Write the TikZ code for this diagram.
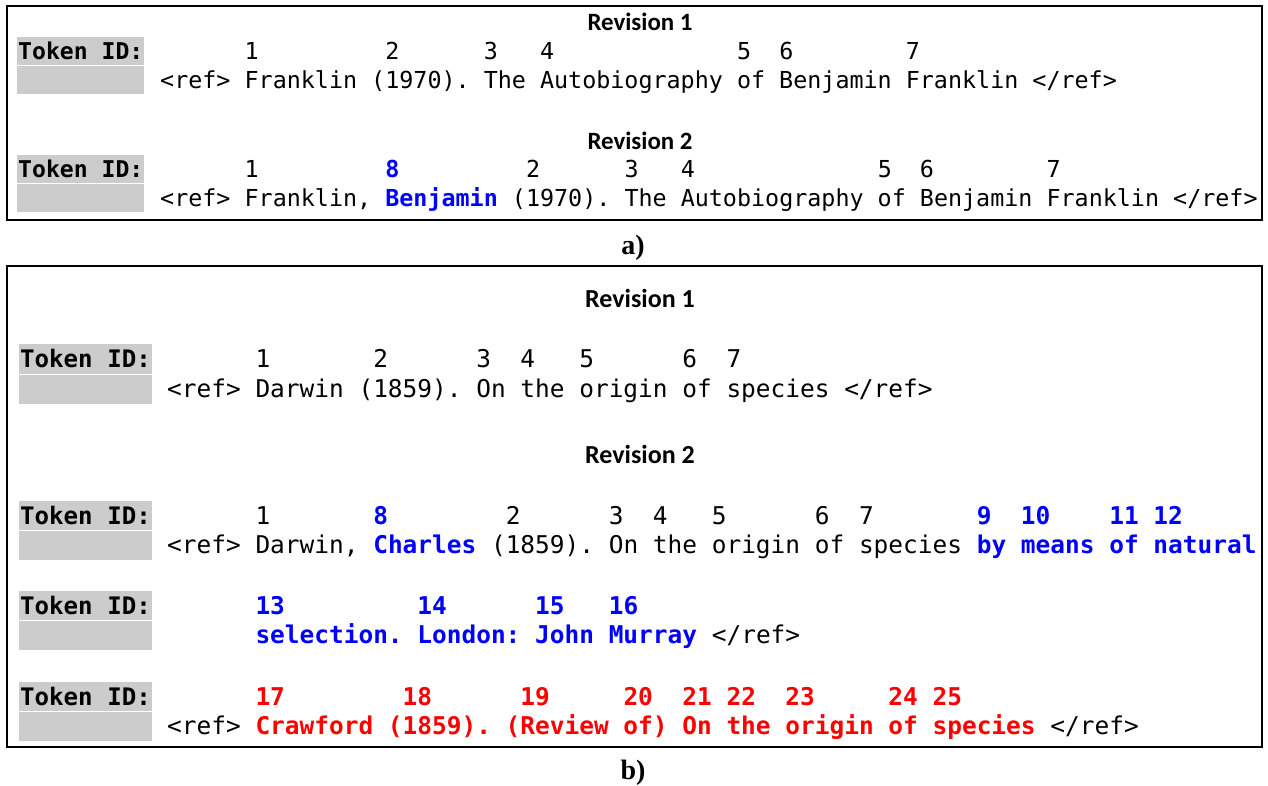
\documentclass[tikz,border=0pt]{standalone}
\usepackage{fontspec}
\newfontfamily\monof{DejaVu Sans Mono}
\newfontfamily\headf{Carlito}
\newfontfamily\capf{Liberation Serif}
\newcommand\tokblue[1]{{\color{blue}\bfseries #1}}
\newcommand\tokred[1]{{\color{red}\bfseries #1}}
\begin{document}
\begin{tikzpicture}[x=1pt,y=-1pt,
  frame/.style={draw=black,line width=2.5pt},
  cellfill/.style={fill=gray!40},
  monoA/.style={anchor=base west,inner sep=0pt,font=\monof\frenchspacing\fontsize{23.37}{28}\selectfont},
  monoB/.style={anchor=base west,inner sep=0pt,font=\monof\frenchspacing\fontsize{24.45}{29}\selectfont},
  tidA/.style={monoA,font=\monof\bfseries\fontsize{23.1}{28}\selectfont},
  tidB/.style={monoB,font=\monof\bfseries\fontsize{24.1}{29}\selectfont},
  headA/.style={anchor=base,inner sep=0pt,font=\headf\bfseries\fontsize{24.9}{29}\selectfont},
  headB/.style={anchor=base,inner sep=0pt,font=\headf\bfseries\fontsize{26}{30}\selectfont},
  caption/.style={anchor=base,inner sep=0pt,font=\capf\bfseries\fontsize{28}{32}\selectfont}
]
\useasboundingbox (0,0) rectangle (1268,785);

% ---------- panel a ----------
\draw[frame] (7,6) rectangle (1262,220);
\node[headA] (arev1) at (640,30.5) {Revision 1};
\node[headA] (arev2) at (640,149.5) {Revision 2};
\foreach \t/\n in {37/a1,155/a2} {
  \fill[cellfill] (17,\t) rectangle (144,\t+28.15);
  \fill[cellfill] (17,\t+29.15) rectangle (144,\t+57.3);
  \node[tidA] (tid\n) at (18,\t+22.5) {Token ID:};
}
% row a1
\foreach \i/\l in {6/1,16/2,23/3,27/4,41/5,44/6,53/7}
  \node[monoA] (a1n\l) at (160+\i*14.07,59.5) {\l};
\node[monoA] (a1txt) at (160,88.15) {<ref> Franklin (1970). The Autobiography of Benjamin Franklin </ref>};
% row a2
\foreach \i/\l in {6/1,26/2,33/3,37/4,51/5,54/6,63/7}
  \node[monoA] (a2n\l) at (160+\i*14.07,177.5) {\l};
\node[monoA] (a2n8) at (160+16*14.07,177.5) {\tokblue{8}};
\node[monoA] (a2txt) at (160,206.15) {<ref> Franklin, \tokblue{Benjamin} (1970). The Autobiography of Benjamin Franklin </ref>};
\node[caption] (capa) at (633,254) {a)};

% ---------- panel b ----------
\draw[frame] (7,266) rectangle (1262,747);
\node[headB] (brev1) at (640,307.5) {Revision 1};
\node[headB] (brev2) at (640,463.5) {Revision 2};
\foreach \t/\n in {344.3/b1,500.5/b2,590.5/b3,681.5/b4} {
  \fill[cellfill] (19,\t) rectangle (152,\t+29.35);
  \fill[cellfill] (19,\t+30.35) rectangle (152,\t+59.7);
  \node[tidB] (tid\n) at (20,\t+23.5) {Token ID:};
}
% row b1
\foreach \i/\l in {6/1,14/2,21/3,24/4,28/5,35/6,38/7}
  \node[monoB] (b1n\l) at (167+\i*14.72,367.8) {\l};
\node[monoB] (b1txt) at (167,397.65) {<ref> Darwin (1859). On the origin of species </ref>};
% row b2
\foreach \i/\l in {6/1,23/2,30/3,33/4,37/5,44/6,47/7}
  \node[monoB] (b2n\l) at (167+\i*14.72,524) {\l};
\foreach \i/\l in {14/8,55/9,58/10,64/11,67/12}
  \node[monoB] (b2n\l) at (167+\i*14.72,524) {\tokblue{\l}};
\node[monoB] (b2txt) at (167,553.85) {<ref> Darwin, \tokblue{Charles} (1859). On the origin of species \tokblue{by means of natural}};
% row b3
\foreach \i/\l in {6/13,17/14,25/15,30/16}
  \node[monoB] (b3n\l) at (167+\i*14.72,614) {\tokblue{\l}};
\node[monoB] (b3txt) at (167+6*14.72,643.85) {\tokblue{selection. London: John Murray} </ref>};
% row b4
\foreach \i/\l in {6/17,16/18,24/19,31/20,35/21,38/22,42/23,49/24,52/25}
  \node[monoB] (b4n\l) at (167+\i*14.72,705) {\tokred{\l}};
\node[monoB] (b4txt) at (167,734.85) {<ref> \tokred{Crawford (1859). (Review of) On the origin of species} </ref>};
\node[caption] (capb) at (633,779) {b)};
\end{tikzpicture}
\end{document}
